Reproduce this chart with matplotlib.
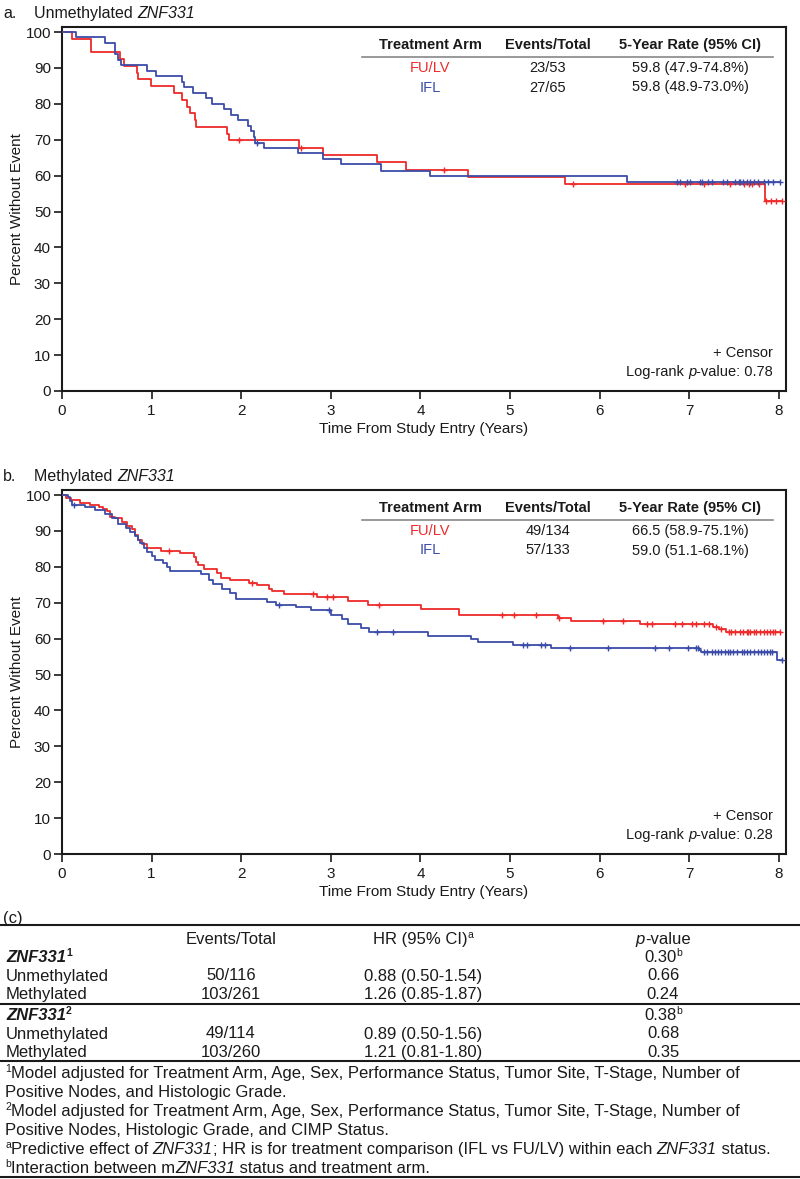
import numpy as np
import matplotlib
matplotlib.use('Agg')
import matplotlib.pyplot as plt

plt.rcParams['font.family'] = ['Liberation Sans', 'DejaVu Sans']

RED = '#ee2a2a'
BLUE = '#3b4ca8'
INK = '#1a1a1a'

# ---- panel a: unmethylated ZNF331 (step times in years, percent without event)
fulv_a_t = [0, 0.11, 0.32, 0.65, 0.69, 0.84, 0.85, 0.99, 1.25, 1.34, 1.40, 1.43,
            1.48, 1.50, 1.84, 1.86, 2.64, 2.91, 3.51, 3.84, 4.53, 5.61, 7.85]
fulv_a_s = [100, 98.1, 94.3, 92.5, 90.6, 88.7, 86.8, 84.9, 83.0, 81.1, 79.2, 77.4,
            75.5, 73.6, 71.7, 69.8, 67.8, 65.7, 63.7, 61.7, 59.7, 57.7, 52.9]
fulv_a_cens = [1.97, 2.67, 4.26, 5.70, 6.95, 7.16, 7.46, 7.61, 7.67, 7.70, 7.78,
               7.86, 7.91, 7.97, 8.03]

ifl_a_t = [0, 0.16, 0.48, 0.59, 0.63, 0.66, 0.95, 1.05, 1.34, 1.36, 1.46, 1.61,
           1.67, 1.81, 1.89, 1.96, 2.08, 2.11, 2.14, 2.15, 2.25, 2.63, 2.91, 3.11,
           3.56, 4.11, 6.30]
ifl_a_s = [100, 98.5, 96.9, 93.8, 92.3, 90.8, 89.2, 87.7, 86.2, 84.6, 83.1, 81.5,
           80.0, 78.5, 76.9, 75.4, 73.8, 72.3, 70.8, 69.2, 67.7, 66.2, 64.6, 63.1,
           61.3, 59.9, 58.2]
ifl_a_cens = [2.18, 6.86, 6.90, 6.97, 7.01, 7.12, 7.14, 7.21, 7.25, 7.38, 7.42,
              7.51, 7.55, 7.57, 7.60, 7.64, 7.68, 7.72, 7.77, 7.83, 7.88, 7.94, 8.01]

# ---- panel b: methylated ZNF331
fulv_b_t = [0, 0.05, 0.10, 0.20, 0.31, 0.41, 0.46, 0.50, 0.54, 0.59, 0.67, 0.72,
            0.78, 0.82, 0.85, 0.89, 0.95, 1.10, 1.32, 1.47, 1.49, 1.52, 1.58, 1.73,
            1.77, 1.88, 2.09, 2.18, 2.31, 2.34, 2.48, 2.85, 3.19, 3.41, 4.01, 4.43,
            5.54, 5.68, 6.45, 7.27, 7.33, 7.41]
fulv_b_s = [100, 99.3, 98.5, 97.8, 97.3, 96.6, 96.0, 95.5, 94.0, 93.6, 92.6, 91.5,
            90.6, 88.9, 87.5, 86.3, 85.3, 84.4, 83.8, 82.8, 81.4, 80.5, 79.3, 78.2,
            77.0, 76.3, 75.6, 74.9, 73.9, 73.2, 72.5, 71.6, 70.4, 69.3, 68.3, 66.7,
            65.8, 65.0, 64.2, 63.3, 62.7, 61.8]
fulv_b_cens = [1.19, 2.12, 2.80, 2.96, 3.02, 3.54, 4.91, 5.04, 5.29, 5.55, 6.04,
               6.26, 6.53, 6.59, 6.84, 6.92, 7.03, 7.07, 7.16, 7.22, 7.30, 7.36,
               7.44, 7.47, 7.51, 7.57, 7.60, 7.64, 7.66, 7.68, 7.72, 7.75, 7.79,
               7.83, 7.87, 7.90, 7.93, 7.96, 8.01]

ifl_b_t = [0, 0.07, 0.09, 0.11, 0.26, 0.37, 0.48, 0.56, 0.63, 0.71, 0.76, 0.82,
           0.85, 0.87, 0.91, 0.95, 1.00, 1.04, 1.13, 1.17, 1.21, 1.55, 1.64, 1.69,
           1.79, 1.88, 1.94, 2.29, 2.39, 2.61, 2.78, 3.00, 3.13, 3.19, 3.34, 3.43,
           4.08, 4.57, 4.64, 5.03, 5.46, 7.11, 7.13, 7.98]
ifl_b_s = [100, 99.4, 98.2, 97.3, 96.6, 95.9, 94.7, 93.6, 91.9, 90.8, 89.8, 88.7,
           87.5, 86.6, 85.2, 84.2, 83.1, 81.9, 81.0, 80.0, 78.8, 77.9, 76.3, 75.1,
           73.9, 72.8, 71.0, 70.2, 69.5, 68.8, 67.9, 66.5, 65.4, 64.1, 63.0, 61.8,
           60.7, 59.9, 59.0, 58.3, 57.3, 56.7, 56.3, 54.0]
ifl_b_cens = [0.13, 2.42, 2.98, 3.52, 3.69, 5.15, 5.19, 5.35, 5.39, 5.67, 6.09,
              6.62, 6.77, 6.99, 7.07, 7.10, 7.16, 7.20, 7.25, 7.29, 7.32, 7.36,
              7.40, 7.43, 7.46, 7.49, 7.53, 7.59, 7.61, 7.64, 7.68, 7.72, 7.77,
              7.80, 7.83, 7.87, 7.90, 7.92, 8.03]

arms = ['FU/LV', 'IFL']
events_a = ['23/53', '27/65']
rate_a = ['59.8 (47.9-74.8%)', '59.8 (48.9-73.0%)']
events_b = ['49/134', '57/133']
rate_b = ['66.5 (58.9-75.1%)', '59.0 (51.1-68.1%)']
logrank = ['0.78', '0.28']

# ---- table (c)
tab_rows = ['Unmethylated', 'Methylated']
tab_events1 = ['50/116', '103/261']
tab_hr1 = ['0.88 (0.50-1.54)', '1.26 (0.85-1.87)']
tab_p1 = ['0.66', '0.24']
tab_int1 = '0.30'
tab_events2 = ['49/114', '103/260']
tab_hr2 = ['0.89 (0.50-1.56)', '1.21 (0.81-1.80)']
tab_p2 = ['0.68', '0.35']
tab_int2 = '0.38'


def km(ax, t, s, cens, color):
    t = np.asarray(t); s = np.asarray(s); cens = np.asarray(cens)
    tt = np.append(t, cens.max())
    ss = np.append(s, s[-1])
    ax.step(tt, ss, where='post', color=color, lw=1.3, zorder=3)
    idx = np.searchsorted(t, cens, side='right') - 1
    ax.plot(cens, s[idx], ls='none', marker='+', ms=5, mew=1.0, color=color, zorder=4)


def setup(ax):
    ax.set_xlim(0, 8.08)
    ax.set_ylim(0, 101.4)
    ax.set_xticks(range(9))
    ax.set_yticks(range(0, 101, 10))
    ax.tick_params(direction='out', length=6, width=1.2, labelsize=11,
                   colors=INK)
    ax.tick_params(axis='x', pad=3.5)
    ax.tick_params(axis='y', pad=2)
    for sp in ax.spines.values():
        sp.set_linewidth(1.5)
        sp.set_color(INK)
    ax.set_xlabel('Time From Study Entry (Years)', fontsize=11, labelpad=3, color=INK)
    ax.set_ylabel('Percent Without Event', fontsize=11, labelpad=1, color=INK)


fig = plt.figure(figsize=(8, 11.79), dpi=100)
W, H = 800, 1179
renderer = fig.canvas.get_renderer()

ax_a = fig.add_axes([62 / W, 1 - 391 / H, 724 / W, 364 / H])
ax_b = fig.add_axes([62 / W, 1 - 854 / H, 724 / W, 364 / H])
km(ax_a, fulv_a_t, fulv_a_s, fulv_a_cens, RED)
km(ax_a, ifl_a_t, ifl_a_s, ifl_a_cens, BLUE)
km(ax_b, fulv_b_t, fulv_b_s, fulv_b_cens, RED)
km(ax_b, ifl_b_t, ifl_b_s, ifl_b_cens, BLUE)
setup(ax_a)
setup(ax_b)

# overlay in pixel coordinates for annotations
ov = fig.add_axes([0, 0, 1, 1], zorder=10)
ov.set_xlim(0, W)
ov.set_ylim(H, 0)
ov.axis('off')
ov.patch.set_alpha(0)

IT = {'fontstyle': 'italic'}


def rich(x, y, pieces, ha='left', size=11, **kw):
    # pieces: (text, style, raised); laid out on a common baseline
    px = size * 100 / 72
    base = y + 0.36 * px
    objs = []
    for txt, st, up in pieces:
        fs = size * 0.62 if up else size
        yy = base - 0.36 * px if up else base
        o = ov.text(0, yy, txt, va='baseline', fontsize=fs, color=INK, **{**kw, **st})
        objs.append(o)
    widths = [o.get_window_extent(renderer).width for o in objs]
    total = sum(widths)
    x0 = {'left': x, 'center': x - total / 2, 'right': x - total}[ha]
    for o, w in zip(objs, widths):
        o.set_x(x0)
        x0 += w


panels = [('a.', 'Unmethylated', 0, events_a, rate_a),
          ('b.', 'Methylated', 463, events_b, rate_b)]
for k, (lab, name, dy, ev, rt) in enumerate(panels):
    rich(3, 12 + dy, [(lab, {}, False)], size=11.5)
    rich(34, 12 + dy, [(name + '\u00a0', {}, False), ('ZNF331', IT, False)], size=11.5)
    for x, h in zip([430, 548, 690], ['Treatment Arm', 'Events/Total', '5-Year Rate (95% CI)']):
        ov.text(x, 45 + dy, h, fontsize=10.5, fontweight='bold', ha='center', va='center', color=INK)
    ov.plot([362, 773], [57 + dy, 57 + dy], color='#888', lw=1.2)
    for i, col in enumerate([RED, BLUE]):
        y = 68 + dy + 19.5 * i
        ov.text(430, y, arms[i], fontsize=10.5, color=col, ha='center', va='center')
        ov.text(548, y, ev[i], fontsize=10.5, ha='center', va='center', color=INK)
        ov.text(690, y, rt[i], fontsize=10.5, ha='center', va='center', color=INK)
    rich(773, 352 + dy, [('+ Censor', {}, False)], ha='right', size=10.5)
    rich(773, 371 + dy, [('Log-rank\u00a0', {}, False), ('p', IT, False),
                         ('-value: ' + logrank[k], {}, False)], ha='right', size=10.5)

# table (c)
TS = 12
rich(3, 917, [('(c)', {}, False)], size=TS)
for y in [925, 1004, 1061, 1177]:
    ov.plot([0, W], [y, y], color=INK, lw=1.5)
rich(231, 938, [('Events/Total', {}, False)], ha='center', size=TS)
rich(423, 938, [('HR (95% CI)', {}, False), ('a', {}, True)], ha='center', size=TS)
rich(663, 938, [('p', IT, False), ('-value', {}, False)], ha='center', size=TS)

BI = {'fontstyle': 'italic', 'fontweight': 'bold'}
blocks = [(956, '1', tab_int1, tab_events1, tab_hr1, tab_p1),
          (1014, '2', tab_int2, tab_events2, tab_hr2, tab_p2)]
for y0, sup, pint, ev, hr, pv in blocks:
    rich(6, y0, [('ZNF331', BI, False), (sup, {'fontweight': 'bold'}, True)], size=TS)
    rich(663, y0, [(pint, {}, False), ('b', {}, True)], ha='center', size=TS)
    for i in range(2):
        y = y0 + 18.5 * (i + 1)
        rich(6, y, [(tab_rows[i], {}, False)], size=TS)
        rich(231, y, [(ev[i], {}, False)], ha='center', size=TS)
        rich(423, y, [(hr[i], {}, False)], ha='center', size=TS)
        rich(663, y, [(pv[i], {}, False)], ha='center', size=TS)

notes = [[('1', {}, True), ('Model adjusted for Treatment Arm, Age, Sex, Performance Status, Tumor Site, T-Stage, Number of', {}, False)],
         [('Positive Nodes, and Histologic Grade.', {}, False)],
         [('2', {}, True), ('Model adjusted for Treatment Arm, Age, Sex, Performance Status, Tumor Site, T-Stage, Number of', {}, False)],
         [('Positive Nodes, Histologic Grade, and CIMP Status.', {}, False)],
         [('a', {}, True), ('Predictive effect of\u00a0', {}, False), ('ZNF331', IT, False),
          ('; HR is for treatment comparison (IFL vs FU/LV) within each\u00a0', {}, False),
          ('ZNF331', IT, False), ('\u00a0status.', {}, False)],
         [('b', {}, True), ('Interaction between m', {}, False), ('ZNF331', IT, False),
          ('\u00a0status and treatment arm.', {}, False)]]
for i, line in enumerate(notes):
    rich(5, 1072 + 19 * i, line, size=TS)

fig.savefig('out.png', dpi=100)
